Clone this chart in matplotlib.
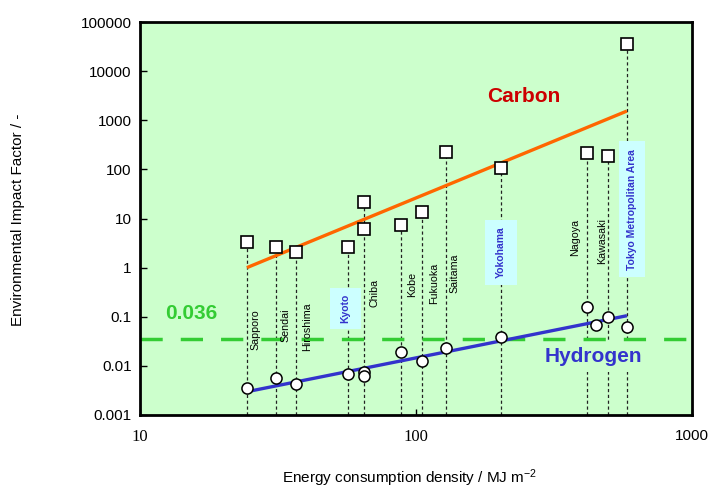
import matplotlib
matplotlib.use("Agg")
import matplotlib.pyplot as plt
import matplotlib.transforms as mtransforms
from matplotlib.patches import Rectangle
import numpy as np

plt.rcParams["font.family"] = ["Liberation Sans", "DejaVu Sans"]
plt.rcParams["mathtext.default"] = "regular"
plt.rcParams["lines.scale_dashes"] = False

# ---------- data ----------
cities = ["Sapporo", "Sendai", "Hiroshima", "Kyoto", "Chiba", "Kobe", "Fukuoka",
          "Saitama", "Yokohama", "Nagoya", "Kawasaki", "Tokyo Metropolitan Area"]
city_energy = [24.4, 31.1, 36.7, 56.5, 65.0, 88.3, 105.4, 128.4, 203, 415, 497, 581]
highlighted = ["Kyoto", "Yokohama", "Tokyo Metropolitan Area"]

carbon_x = [24.4, 31.1, 36.7, 56.5, 65.0, 65.0, 88.3, 105.4, 128.4, 203, 415, 497, 581]
carbon_y = [3.28, 2.63, 2.11, 2.67, 22.0, 6.03, 7.48, 13.7, 223, 105, 212, 190, 35600]

hydrogen_x = [24.4, 31.1, 36.7, 56.5, 65.0, 65.0, 88.3, 105.4, 128.4, 203, 415, 448, 497, 581]
hydrogen_y = [0.0035, 0.00574, 0.00422, 0.00674, 0.0076, 0.00622, 0.0192, 0.0124,
              0.0231, 0.0393, 0.160, 0.068, 0.0975, 0.0627]

carbon_fit_x = [24.4, 581]
carbon_fit_y = [1.0, 1540]
hydrogen_fit_x = [24.4, 581]
hydrogen_fit_y = [0.00298, 0.105]

threshold = 0.036

x_ticks = [10, 100, 1000]
x_tick_labels = ["10", "100", "1000"]
y_ticks = [0.001, 0.01, 0.1, 1, 10, 100, 1000, 10000, 100000]
y_tick_labels = ["0.001", "0.01", "0.1", "1", "10", "100", "1000", "10000", "100000"]

# label layout: horizontal shift from the drop line (px) and height (axes fraction)
label_dx = [8.3, 9, 11.7, -2.7, 10, 11.3, 11.7, 9, 0, -11.5, -6, 4.7]
label_y = [0.216, 0.229, 0.224, 0.271, 0.310, 0.331, 0.336, 0.361, 0.4135, 0.452, 0.443, 0.524]
# cyan boxes behind highlighted names (axes fraction: x0, y0, w, h)
label_boxes = [(0.344, 0.219, 0.056, 0.104),
               (0.625, 0.331, 0.058, 0.165),
               (0.868, 0.351, 0.047, 0.346)]

bg = "#CCFFCC"

fig = plt.figure(figsize=(7.14, 4.88), dpi=100)
ax = fig.add_axes([140 / 714, 1 - 415 / 488, 552 / 714, 393 / 488])
ax.set_facecolor(bg)
ax.set_xscale("log")
ax.set_yscale("log")
ax.set_xlim(10, 1000)
ax.set_ylim(0.001, 100000)

# drop lines from the highest carbon point of each city
tops = [max(c for x, c in zip(carbon_x, carbon_y) if x == e) for e in city_energy]
ax.vlines(city_energy, 0.001, tops, colors="#222222", linewidth=0.9,
          linestyles=(0, (2.3, 1.9)), zorder=1)

# threshold line
ax.axhline(threshold, color="#33CC33", linewidth=2.5, dashes=(16, 13), zorder=2)

for (x0, y0, w, h) in label_boxes:
    ax.add_patch(Rectangle((x0, y0), w, h, transform=ax.transAxes,
                           facecolor="#CCFFFF", edgecolor="none", zorder=3))

trans = mtransforms.blended_transform_factory(ax.transData, ax.transAxes)
for name, e, dx, ly in zip(cities, city_energy, label_dx, label_y):
    if name in highlighted:
        kw = dict(color="#3333CC", fontweight="bold", fontsize=7.5)
    else:
        kw = dict(color="black", fontsize=7.7)
    ax.annotate(name, xy=(e, ly), xycoords=trans, xytext=(dx * 0.72, 0),
                textcoords="offset points", rotation=90, ha="center", va="center",
                zorder=4, **kw)

# fitted trends
ax.plot(carbon_fit_x, carbon_fit_y, color="#FF6600", linewidth=2.4, zorder=5,
        solid_capstyle="butt")
ax.plot(hydrogen_fit_x, hydrogen_fit_y, color="#3333CC", linewidth=2.4, zorder=5,
        solid_capstyle="butt")

# points
ax.plot(carbon_x, carbon_y, linestyle="none", marker="s", markersize=8.5,
        markerfacecolor="white", markeredgecolor="black", markeredgewidth=1.2, zorder=6)
ax.plot(hydrogen_x, hydrogen_y, linestyle="none", marker="o", markersize=8,
        markerfacecolor="white", markeredgecolor="black", markeredgewidth=1.1, zorder=6)

ax.text(0.6957, 0.81, "Carbon", transform=ax.transAxes, color="#CC0000",
        fontsize=15, fontweight="bold", ha="center", va="center", zorder=7)
ax.text(0.8207, 0.1476, "Hydrogen", transform=ax.transAxes, color="#3333CC",
        fontsize=15, fontweight="bold", ha="center", va="center", zorder=4,
        bbox=dict(boxstyle="square,pad=0.25", facecolor=bg, edgecolor="none"))
ax.text(0.0924, 0.2588, "0.036", transform=ax.transAxes, color="#33CC33",
        fontsize=15, fontweight="bold", ha="center", va="center", zorder=7)

# axes styling
ax.set_xticks(x_ticks)
ax.set_xticklabels(x_tick_labels)
ax.set_yticks(y_ticks)
ax.set_yticklabels(y_tick_labels)
ax.xaxis.set_minor_locator(matplotlib.ticker.NullLocator())
ax.yaxis.set_minor_locator(matplotlib.ticker.NullLocator())
ax.tick_params(axis="y", direction="in", length=5, width=1, labelsize=11, pad=6)
ax.tick_params(axis="x", direction="in", length=4, width=1, labelsize=11, pad=10)
for lbl, fam, size in zip(ax.get_xticklabels(),
                          ["Liberation Serif", "Liberation Serif", "Liberation Sans"],
                          [12, 12, 11]):
    lbl.set_fontfamily(fam)
    lbl.set_fontsize(size)
for sp in ax.spines.values():
    sp.set_linewidth(2)
    sp.set_color("black")

fig.text(0.0257, 0.549, "Environmental Impact Factor / -", rotation=90,
         ha="center", va="center", fontsize=11)
fig.text(0.574, 0.0205, "Energy consumption density / MJ m$^{-2}$",
         ha="center", va="center", fontsize=11)

fig.savefig("out.png", dpi=100)
